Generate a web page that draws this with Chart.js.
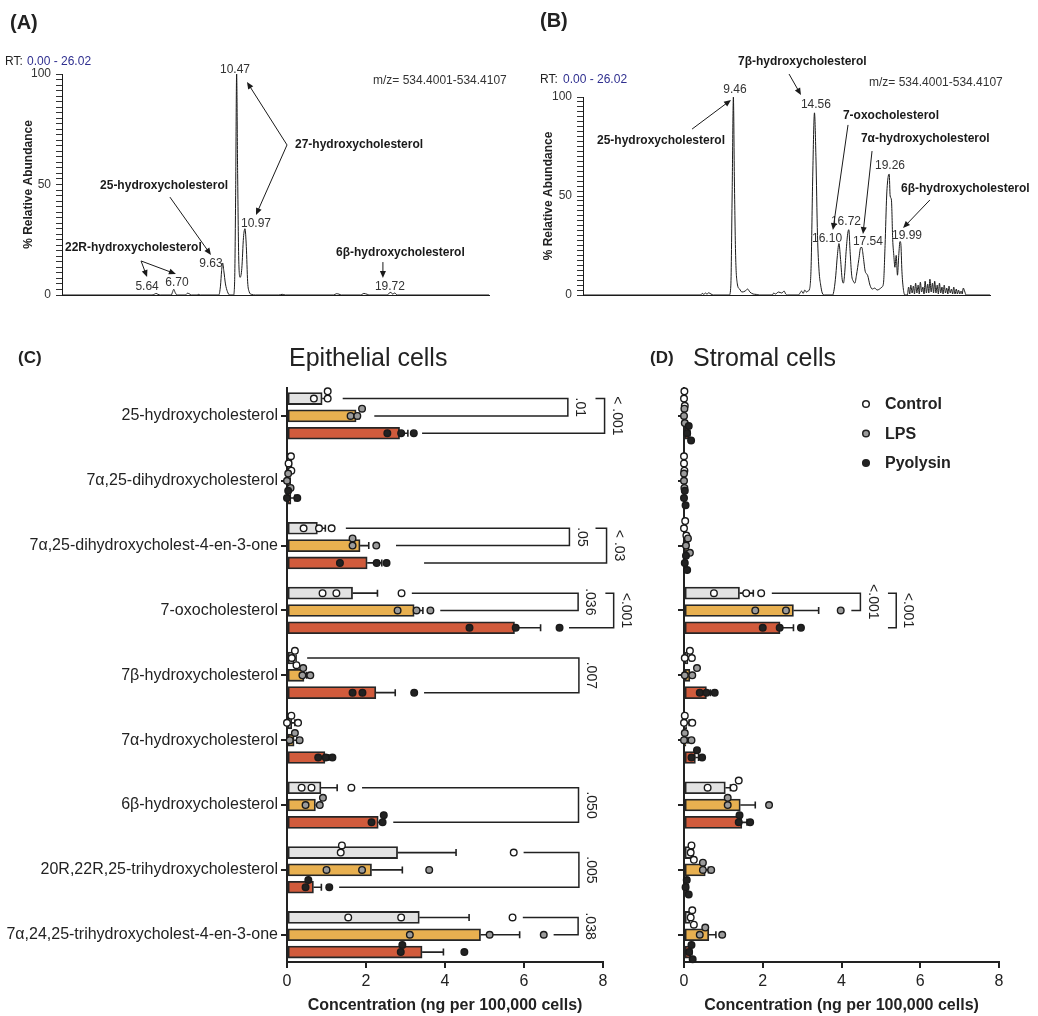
<!DOCTYPE html>
<html>
<head>
<meta charset="utf-8">
<title>Oxysterols in endometrial cells</title>
<script src="https://cdn.jsdelivr.net/npm/chart.js@4.4.1/dist/chart.umd.min.js"></script>
<style>
  body { margin: 0; background: #fff; }
  #page { position: relative; width: 1038px; height: 1016px; overflow: hidden;
          font-family: 'Liberation Sans', Arial, sans-serif; color: #222; }
  #page canvas { position: absolute; }
  .txt { position: absolute; white-space: nowrap; line-height: 1; }
  .panel { font-weight: bold; font-size: 17px; }
  .title { font-size: 25px; }
  .small { font-size: 12px; color: #333; }
  .rt { color: #2f2f8f; }
</style>
</head>
<body>
<div id="page">
  <canvas id="chromA" width="520" height="310" style="left:0;top:0"></canvas>
  <canvas id="chromB" width="518" height="310" style="left:520px;top:0"></canvas>
  <canvas id="epiChart" width="650" height="676" style="left:0;top:340px"></canvas>
  <canvas id="strChart" width="388" height="676" style="left:650px;top:340px"></canvas>

  <div class="txt panel" style="left:10px;top:12px;font-size:20px">(A)</div>
  <div class="txt panel" style="left:540px;top:10px;font-size:20px">(B)</div>
  <div class="txt small" style="left:5px;top:55px;color:#222">RT:</div>
  <div class="txt small rt" style="left:27px;top:55px">0.00 - 26.02</div>
  <div class="txt small" style="left:373px;top:74px">m/z= 534.4001-534.4107</div>
  <div class="txt small" style="left:540px;top:73px;color:#222">RT:</div>
  <div class="txt small rt" style="left:563px;top:73px">0.00 - 26.02</div>
  <div class="txt small" style="left:869px;top:76px">m/z= 534.4001-534.4107</div>

  <div class="txt panel" style="left:18px;top:349px">(C)</div>
  <div class="txt title" style="left:289px;top:345px">Epithelial cells</div>
  <div class="txt panel" style="left:650px;top:349px">(D)</div>
  <div class="txt title" style="left:693px;top:345px">Stromal cells</div>
</div>

<script>
const FAMILY = "'Liberation Sans', Arial, sans-serif";
Chart.defaults.font.family = FAMILY;
Chart.defaults.color = '#222';
Chart.defaults.animation = false;

// ---------- (A) and (B) chromatograms: [retention time, % relative abundance] ----------
const traceA = [
  [0, 0], [5.40, 0], [5.55, 0.4], [5.64, 0.7], [5.75, 0.3], [5.90, 0],
  [6.55, 0], [6.62, 1.2], [6.70, 2.6], [6.78, 1.2], [6.90, 0],
  [7.40, 0], [7.52, 0.8], [7.62, 0.6], [7.75, 0], [8.10, 0], [8.20, 0.3], [8.30, 0],
  [9.40, 0], [9.50, 4], [9.57, 11], [9.63, 14.5], [9.70, 11], [9.80, 5], [9.92, 1.5], [10.05, 0],
  [10.28, 0], [10.35, 6], [10.41, 45], [10.47, 100], [10.53, 55], [10.60, 15], [10.68, 8],
  [10.78, 12], [10.88, 26], [10.97, 30], [11.05, 22], [11.13, 6], [11.22, 1.5], [11.35, 0.3], [11.60, 0],
  [13.00, 0], [13.20, 0.3], [13.40, 0], [16.30, 0], [16.45, 0.6], [16.60, 0.4], [16.75, 0],
  [17.90, 0], [18.10, 0.7], [18.30, 0.3], [18.45, 0], [19.50, 0], [19.62, 0.9], [19.72, 1.2],
  [19.82, 0.4], [19.95, 0.9], [20.10, 0], [25.60, 0]
];
const traceB = [
  [0, 0], [7.40, 0], [7.50, 0.8], [7.60, 0.3], [7.70, 1.0], [7.80, 0.4], [7.90, 1.1], [8.05, 0.5], [8.20, 0],
  [9.20, 0], [9.30, 5], [9.38, 50], [9.46, 100], [9.52, 60], [9.60, 20], [9.70, 6], [9.85, 3],
  [10.00, 1.5], [10.20, 2], [10.35, 3], [10.50, 1.5], [10.70, 0.5], [10.90, 0.3], [11.10, 0],
  [11.90, 0], [12.00, 1], [12.10, 0.5], [12.30, 1.5], [12.50, 1], [12.65, 2], [12.75, 0.5], [12.85, 0],
  [13.55, 0], [13.65, 1], [13.75, 2], [13.85, 0.8], [13.95, 2.5], [14.05, 1.5], [14.15, 2],
  [14.25, 3], [14.35, 15], [14.45, 60], [14.56, 92], [14.65, 70], [14.75, 30], [14.85, 12], [14.95, 5],
  [15.05, 1], [15.20, 0], [15.70, 0], [15.80, 3], [15.90, 10], [16.00, 20], [16.10, 26], [16.20, 18],
  [16.30, 8], [16.38, 6], [16.45, 10], [16.55, 22], [16.65, 31], [16.72, 33], [16.80, 22], [16.90, 10],
  [17.00, 7], [17.10, 6], [17.20, 10], [17.35, 18], [17.47, 24], [17.54, 24], [17.62, 20], [17.75, 12],
  [17.90, 10], [18.05, 5], [18.20, 3], [18.35, 3.5], [18.50, 2.5], [18.65, 3], [18.80, 4],
  [18.90, 6], [19.00, 25], [19.10, 50], [19.20, 60], [19.26, 61], [19.32, 50], [19.40, 48], [19.48, 28],
  [19.55, 20], [19.62, 14], [19.70, 20], [19.78, 10], [19.86, 20], [19.94, 27], [19.99, 26], [20.06, 12],
  [20.15, 3], [20.25, 0], [20.40, 0], [20.48, 4], [20.55, 0.5], [20.62, 5], [20.70, 1], [20.78, 4.5],
  [20.85, 0.5], [20.92, 6], [21.00, 1], [21.08, 5], [21.15, 0.5], [21.22, 6.5], [21.30, 1.5], [21.38, 4],
  [21.45, 0.5], [21.52, 7], [21.60, 1], [21.68, 5.5], [21.75, 1], [21.82, 8], [21.90, 1.5], [21.98, 6],
  [22.05, 1], [22.12, 7], [22.20, 1], [22.28, 5], [22.35, 0.5], [22.42, 6], [22.50, 1], [22.58, 4],
  [22.65, 0.5], [22.72, 5], [22.80, 1], [22.88, 3.5], [22.95, 0.5], [23.02, 4.5], [23.10, 1], [23.18, 3],
  [23.25, 0.5], [23.32, 4], [23.40, 0.5], [23.48, 3], [23.55, 0.5], [23.62, 2.5], [23.70, 0.5], [23.78, 2],
  [23.85, 0.5], [23.92, 3.5], [24.00, 2], [24.10, 0], [25.60, 0]
];

// peak labels: [text, rt, abundance] of the label centre
const peaksA = [['10.47', 10.37, 101.8], ['10.97', 11.63, 32.1], ['9.63', 8.93, 14.0],
                ['6.70', 6.89, 5.4], ['5.64', 5.10, 3.6], ['19.72', 19.66, 3.6]];
const peaksB = [['9.46', 9.56, 103.5], ['14.56', 14.65, 96.0], ['16.10', 15.35, 28.3],
                ['16.72', 16.54, 36.9], ['17.54', 17.92, 26.8], ['19.26', 19.31, 65.2], ['19.99', 20.38, 29.8]];

// compound names with arrows: text start, then [tail, head] pairs
const notesA = [
  { text: '27-hydroxycholesterol', at: [13.97, 67.9], arrows: [[[13.49, 67.9], [11.09, 96.4]], [[13.49, 67.9], [11.63, 36.2]]] },
  { text: '25-hydroxycholesterol', at: [2.28, 49.3], arrows: [[[6.47, 44.3], [8.93, 18.1]]] },
  { text: '22R-hydroxycholesterol', at: [0.18, 21.3], arrows: [[[4.74, 15.4], [5.10, 8.1]], [[4.74, 15.4], [6.83, 9.5]]] },
  { text: '6β-hydroxycholesterol', at: [16.43, 19.0], arrows: [[[19.24, 14.9], [19.24, 7.7]]] }
];
const notesB = [
  { text: '7β-hydroxycholesterol', at: [9.75, 117.7], arrows: [[[12.96, 111.6], [13.71, 101.0]]] },
  { text: '25-hydroxycholesterol', at: [0.88, 77.8], arrows: [[[6.86, 83.8], [9.31, 98.5]]] },
  { text: '7-oxocholesterol', at: [16.35, 90.4], arrows: [[[16.67, 85.9], [15.72, 32.8]]] },
  { text: '7α-hydroxycholesterol', at: [17.48, 78.8], arrows: [[[18.18, 72.7], [17.61, 30.8]]] },
  { text: '6β-hydroxycholesterol', at: [20.0, 53.5], arrows: [[[21.82, 48.0], [20.13, 33.8]]] }
];

// ---------- (C) and (D) concentrations, ng per 100,000 cells ----------
const categories = ['25-hydroxycholesterol', '7α,25-dihydroxycholesterol', '7α,25-dihydroxycholest-4-en-3-one',
  '7-oxocholesterol', '7β-hydroxycholesterol', '7α-hydroxycholesterol', '6β-hydroxycholesterol',
  '20R,22R,25-trihydroxycholesterol', '7α,24,25-trihydroxycholest-4-en-3-one'];
const groups = ['Control', 'LPS', 'Pyolysin'];

const epiControl = [0.89, 0.07, 0.77, 1.66, 0.18, 0.12, 0.86, 2.80, 3.35];
const epiLPS = [1.75, 0.05, 1.85, 3.22, 0.43, 0.18, 0.72, 2.14, 4.90];
const epiPyolysin = [2.85, 0.10, 2.03, 5.76, 2.25, 0.96, 2.31, 0.67, 3.42];
const epiControlErr = [0.11, 0.04, 0.20, 0.63, 0.05, 0.08, 0.41, 1.48, 1.26];
const epiLPSErr = [0.08, 0.03, 0.22, 0.22, 0.07, 0.07, 0.13, 0.78, 0.99];
const epiPyolysinErr = [0.21, 0.10, 0.37, 0.66, 0.49, 0.10, 0.10, 0.20, 0.54];
const epiControlPts = [[0.68, 1.03, 1.03], [0.10, 0.11, 0.04], [0.42, 0.81, 1.13], [0.90, 1.25, 2.90], [0.12, 0.20, 0.24],
  [0.00, 0.11, 0.28], [0.37, 0.62, 1.63], [1.36, 1.39, 5.74], [1.55, 2.89, 5.71]];
const epiLPSPts = [[1.61, 1.78, 1.90], [0.00, 0.09, 0.03], [1.66, 1.66, 2.26], [2.80, 3.28, 3.63], [0.39, 0.41, 0.59],
  [0.07, 0.20, 0.32], [0.47, 0.83, 0.91], [1.00, 1.90, 3.60], [3.11, 5.13, 6.50]];
const epiPyolysinPts = [[2.54, 2.89, 3.21], [0.00, 0.03, 0.26], [1.34, 2.27, 2.52], [4.62, 5.79, 6.90], [1.66, 1.91, 3.22],
  [0.79, 0.98, 1.15], [2.14, 2.42, 2.45], [0.47, 0.54, 1.07], [2.88, 2.92, 4.49]];

const strControl = [0.01, 0.01, 0.02, 1.41, 0.10, 0.07, 1.05, 0.20, 0.15];
const strLPS = [0.01, 0.01, 0.08, 2.78, 0.15, 0.05, 1.43, 0.54, 0.63];
const strPyolysin = [0.12, 0.02, 0.05, 2.44, 0.57, 0.29, 1.47, 0.08, 0.17];
const strControlErr = [0.01, 0.01, 0.02, 0.35, 0.05, 0.06, 0.13, 0.03, 0.03];
const strLPSErr = [0.01, 0.01, 0.03, 0.64, 0.06, 0.05, 0.38, 0.08, 0.18];
const strPyolysinErr = [0.03, 0.01, 0.02, 0.34, 0.10, 0.08, 0.13, 0.03, 0.03];
const strControlPts = [[0.00, 0.01, 0.02], [0.00, 0.00, 0.01], [0.00, 0.03, 0.06], [0.76, 1.58, 1.96], [0.02, 0.15, 0.20],
  [0.00, 0.02, 0.21], [0.60, 1.26, 1.39], [0.17, 0.19, 0.25], [0.17, 0.21, 0.25]];
const strLPSPts = [[0.00, 0.01, 0.02], [0.00, 0.00, 0.01], [0.05, 0.10, 0.15], [1.81, 2.59, 3.98], [0.02, 0.21, 0.33],
  [0.00, 0.02, 0.19], [1.11, 1.11, 2.16], [0.48, 0.48, 0.69], [0.40, 0.54, 0.97]];
const strPyolysinPts = [[0.08, 0.12, 0.18], [0.00, 0.02, 0.04], [0.02, 0.05, 0.08], [2.00, 2.43, 2.97], [0.40, 0.57, 0.78],
  [0.19, 0.33, 0.46], [1.39, 1.41, 1.68], [0.04, 0.07, 0.12], [0.13, 0.19, 0.22]];

// significance: [category, group a, group b, bracket x, line start a, line start b, p label]
const epiBrackets = [
  [0, 0, 1, 7.11, 1.41, 2.21, '.01'], [0, 0, 2, 8.04, 7.81, 3.42, '< .001'],
  [2, 0, 1, 7.15, 1.49, 2.76, '.05'], [2, 0, 2, 8.09, 7.81, 3.47, '< .03'],
  [3, 0, 1, 7.37, 3.16, 3.88, '.036'], [3, 0, 2, 8.27, 8.06, 7.14, '<.001'],
  [4, 0, 2, 7.39, 0.51, 3.47, '.007'], [6, 0, 2, 7.38, 1.90, 2.69, '.050'],
  [7, 0, 2, 7.39, 5.99, 1.32, '.005'], [8, 0, 1, 7.37, 5.97, 6.75, '.038']
];
const strBrackets = [
  [3, 0, 1, 4.48, 2.23, 4.25, '<.001'], [3, 0, 2, 5.39, 5.18, 5.18, '<.001']
];

const barColors = ['#e2e2e2', '#e8b050', '#d15b3c'];
const dotColors = ['#ffffff', '#9b9b9b', '#222222'];
const groupOffset = [-0.267, 0, 0.267];

// ---------- drawing helpers ----------
function arrow(ctx, x1, y1, x2, y2) {
  const a = Math.atan2(y2 - y1, x2 - x1), len = 7, w = 3;
  ctx.beginPath(); ctx.moveTo(x1, y1); ctx.lineTo(x2 - Math.cos(a) * len * 0.8, y2 - Math.sin(a) * len * 0.8); ctx.stroke();
  ctx.beginPath();
  ctx.moveTo(x2, y2);
  ctx.lineTo(x2 - Math.cos(a) * len + Math.sin(a) * w, y2 - Math.sin(a) * len - Math.cos(a) * w);
  ctx.lineTo(x2 - Math.cos(a) * len - Math.sin(a) * w, y2 - Math.sin(a) * len + Math.cos(a) * w);
  ctx.closePath(); ctx.fill();
}

const chromNotes = {
  id: 'chromNotes',
  afterDraw(chart, args, o) {
    const { ctx, scales: { x, y } } = chart;
    const px = p => [x.getPixelForValue(p[0]), y.getPixelForValue(p[1])];
    ctx.save();
    ctx.fillStyle = '#333';
    ctx.font = '12px ' + FAMILY;
    ctx.textAlign = 'center';
    ctx.textBaseline = 'middle';
    o.peaks.forEach(([t, rt, ab]) => ctx.fillText(t, x.getPixelForValue(rt), y.getPixelForValue(ab)));
    ctx.fillStyle = '#1a1a1a';
    ctx.strokeStyle = '#1a1a1a';
    ctx.lineWidth = 1;
    ctx.font = 'bold 12px ' + FAMILY;
    ctx.textAlign = 'left';
    o.notes.forEach(n => {
      const [tx, ty] = px(n.at);
      ctx.fillText(n.text, tx, ty);
      n.arrows.forEach(([t, h]) => arrow(ctx, ...px(t), ...px(h)));
    });
    ctx.restore();
  }
};

function chromChart(id, trace, peaks, notes, area) {
  return new Chart(document.getElementById(id), {
    type: 'line',
    data: {
      datasets: [{
        data: trace.map(([rt, ab]) => ({ x: rt, y: ab })),
        borderColor: '#1a1a1a', borderWidth: 1, pointRadius: 0,
        cubicInterpolationMode: 'monotone', fill: false
      }]
    },
    options: {
      responsive: false, events: [],
      layout: { padding: { top: area.top, right: area.right, left: 0, bottom: 0 } },
      plugins: { legend: { display: false }, tooltip: { enabled: false }, chromNotes: { peaks, notes } },
      scales: {
        x: {
          type: 'linear', min: 0, max: 25.6,
          ticks: { display: false }, grid: { display: false },
          border: { display: true, color: '#1a1a1a', width: 1 },
          afterFit: s => { s.height = area.xh; }
        },
        y: {
          min: 0, max: 100,
          afterBuildTicks: s => { const t = []; for (let v = 0; v <= 100; v += 2.5) t.push({ value: v }); s.ticks = t; },
          ticks: { autoSkip: false, padding: 5, color: '#333', font: { size: 12 },
                   callback: v => (v % 50 === 0 ? String(v) : '') },
          grid: { drawOnChartArea: false, drawTicks: true, tickLength: 6, color: '#333', lineWidth: 1 },
          border: { display: true, color: '#1a1a1a', width: 1 },
          title: { display: true, text: '% Relative Abundance', font: { size: 12, weight: 'bold' },
                   color: '#222', padding: { top: 21, bottom: 0 } },
          afterFit: s => { s.width = area.yw; }
        }
      }
    },
    plugins: [chromNotes]
  });
}

chromChart('chromA', traceA, peaksA, notesA, { top: 74, right: 31, yw: 62, xh: 15 });
chromChart('chromB', traceB, peaksB, notesB, { top: 97, right: 48, yw: 63, xh: 15 });

// beeswarm placement of replicate dots inside one bar row
function swarm(xs, cy, r) {
  const placed = [];
  const d = 2 * r + 0.6;
  xs.slice().sort((a, b) => a - b).forEach(px => {
    for (const k of [0, -1, 1, -2, 2]) {
      const py = cy + k * d;
      if (placed.every(p => Math.hypot(p[0] - px, p[1] - py) >= 2 * r)) { placed.push([px, py]); break; }
    }
  });
  return placed;
}

const barExtras = {
  id: 'barExtras',
  afterDatasetsDraw(chart, args, o) {
    const { ctx, scales: { x, y } } = chart;
    const r = 3.3;
    ctx.save();
    ctx.strokeStyle = '#222';
    ctx.lineWidth = 1.6;
    // error bars (upper whisker only)
    o.means.forEach((m, g) => m.forEach((v, i) => {
      const cy = y.getPixelForValue(i + groupOffset[g]);
      const x0 = x.getPixelForValue(v), x1 = x.getPixelForValue(v + o.errs[g][i]);
      ctx.beginPath();
      ctx.moveTo(x0, cy); ctx.lineTo(x1, cy);
      ctx.moveTo(x1, cy - 3.5); ctx.lineTo(x1, cy + 3.5);
      ctx.stroke();
    }));
    // replicate dots
    ctx.lineWidth = 1.4;
    ctx.strokeStyle = '#1a1a1a';
    o.points.forEach((rows, g) => rows.forEach((vals, i) => {
      const cy = y.getPixelForValue(i + groupOffset[g]);
      swarm(vals.map(v => x.getPixelForValue(v)), cy, r).forEach(([px, py]) => {
        ctx.beginPath(); ctx.arc(px, py, r, 0, Math.PI * 2);
        ctx.fillStyle = dotColors[g]; ctx.fill(); ctx.stroke();
      });
    }));
    // significance brackets
    ctx.lineWidth = 1.5;
    ctx.strokeStyle = '#222';
    ctx.fillStyle = '#222';
    ctx.font = '14px ' + FAMILY;
    ctx.textAlign = 'center';
    ctx.textBaseline = 'middle';
    o.brackets.forEach(([cat, a, b, bx, sa, sb, label]) => {
      const ya = y.getPixelForValue(cat + groupOffset[a]);
      const yb = y.getPixelForValue(cat + groupOffset[b]);
      const xb = x.getPixelForValue(bx);
      ctx.beginPath();
      ctx.moveTo(x.getPixelForValue(sa), ya); ctx.lineTo(xb, ya);
      ctx.lineTo(xb, yb); ctx.lineTo(x.getPixelForValue(sb), yb);
      ctx.stroke();
      ctx.save();
      ctx.translate(xb + 12, (ya + yb) / 2);
      ctx.rotate(Math.PI / 2);
      ctx.fillText(label, 0, 0);
      ctx.restore();
    });
    // legend
    if (o.legend) {
      ctx.font = 'bold 16px ' + FAMILY;
      ctx.textAlign = 'left';
      groups.forEach((name, g) => {
        const ly = 64 + g * 29.5;
        ctx.beginPath(); ctx.arc(216, ly, r, 0, Math.PI * 2);
        ctx.fillStyle = dotColors[g]; ctx.fill(); ctx.stroke();
        ctx.fillStyle = '#222';
        ctx.fillText(name, 235, ly + 1);
      });
    }
    ctx.restore();
  }
};

function concChart(id, showLabels, means, errs, points, brackets, area, legend) {
  return new Chart(document.getElementById(id), {
    type: 'bar',
    data: {
      datasets: groups.map((name, g) => ({
        label: name,
        data: means[g].map((v, i) => ({ x: v, y: i + groupOffset[g] })),
        backgroundColor: barColors[g], borderColor: '#262626', borderWidth: 1.8,
        borderSkipped: false, barThickness: 12, grouped: false
      }))
    },
    options: {
      indexAxis: 'y', responsive: false, events: [],
      layout: { padding: { top: 48, right: area.right, left: 0, bottom: 0 } },
      plugins: { legend: { display: false }, tooltip: { enabled: false },
                 barExtras: { means, errs, points, brackets, legend } },
      scales: {
        x: {
          type: 'linear', min: 0, max: 8,
          ticks: { stepSize: 2, padding: 4, maxRotation: 0, font: { size: 16 }, color: '#222' },
          grid: { drawOnChartArea: false, drawTicks: true, tickLength: 6, color: '#222', lineWidth: 2 },
          border: { display: true, color: '#222', width: 2 },
          title: { display: true, text: 'Concentration (ng per 100,000 cells)',
                   font: { size: 16, weight: 'bold' }, color: '#222', padding: { top: 4, bottom: 1 } },
          afterFit: s => { s.height = 54; }
        },
        y: {
          type: 'linear', reverse: true, min: -0.43, max: 8.42, offset: false,
          afterBuildTicks: s => { s.ticks = categories.map((c, i) => ({ value: i })); },
          ticks: { autoSkip: false, padding: 3, font: { size: 16 }, color: '#222',
                   callback: v => (showLabels ? categories[Math.round(v)] : '') },
          grid: { offset: false, drawOnChartArea: false, drawTicks: true, tickLength: 6, color: '#222', lineWidth: 2 },
          border: { display: true, color: '#222', width: 2 },
          afterFit: s => { s.width = area.yw; }
        }
      }
    },
    plugins: [barExtras]
  });
}

concChart('epiChart', true,
  [epiControl, epiLPS, epiPyolysin],
  [epiControlErr, epiLPSErr, epiPyolysinErr],
  [epiControlPts, epiLPSPts, epiPyolysinPts],
  epiBrackets, { yw: 287, right: 47 }, false);

concChart('strChart', false,
  [strControl, strLPS, strPyolysin],
  [strControlErr, strLPSErr, strPyolysinErr],
  [strControlPts, strLPSPts, strPyolysinPts],
  strBrackets, { yw: 34, right: 39 }, true);
</script>
</body>
</html>
